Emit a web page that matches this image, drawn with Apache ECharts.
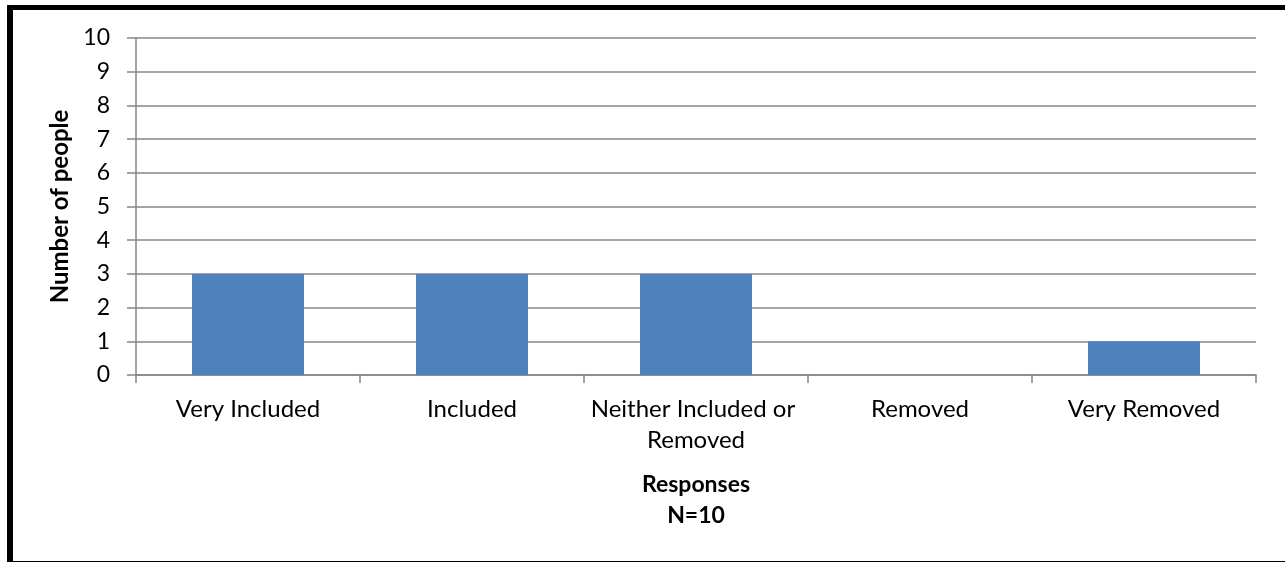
<!DOCTYPE html>
<html>
<head>
<meta charset="utf-8">
<script src="https://cdn.jsdelivr.net/npm/echarts@6/dist/echarts.min.js"></script>
<style>
  html, body { margin: 0; padding: 0; background: #fff; }
  #chart { width: 1285px; height: 562px; position: absolute; left: 0; top: 0; }
  #frame { position: absolute; left: 7px; top: 5px; width: 1272px; height: 551px;
           border-left: 6px solid #000; border-top: 5px solid #000;
           border-right: 3px solid #000; border-bottom: 3px solid #000; pointer-events: none; }
</style>
</head>
<body>
<div id="chart"></div>
<div id="frame"></div>
<script>
const categories = ["Very Included", "Included", "Neither Included or Removed", "Removed", "Very Removed"];
const values = [3, 3, 3, 0, 1];
const yTicks = [0, 1, 2, 3, 4, 5, 6, 7, 8, 9, 10];

const FONT = 'Lato';
const chart = echarts.init(document.getElementById('chart'), null, { renderer: 'canvas' });
chart.setOption({
  animation: false,
  backgroundColor: '#fff',
  grid: { left: 136, right: 29, top: 38, bottom: 187, containLabel: false },
  xAxis: {
    type: 'category',
    data: categories,
    name: 'Responses\nN=10',
    nameLocation: 'middle',
    nameGap: 94,
    nameTextStyle: { fontFamily: FONT, fontWeight: 'bold', fontSize: 23, color: '#000', lineHeight: 31 },
    axisLine: { lineStyle: { color: '#868686', width: 1.5 } },
    axisTick: { show: true, length: 8, lineStyle: { color: '#868686', width: 1.5 } },
    axisLabel: { fontFamily: FONT, fontSize: 24, color: '#000', margin: 19, lineHeight: 31,
                 width: 218, overflow: 'break', interval: 0 },
    splitLine: { show: false }
  },
  yAxis: {
    type: 'value',
    min: 0, max: 10, interval: 1,
    name: 'Number of people',
    nameLocation: 'middle',
    nameGap: 60,
    nameTextStyle: { fontFamily: FONT, fontWeight: 'bold', fontSize: 24, color: '#000' },
    axisLine: { show: true, lineStyle: { color: '#868686', width: 1.5 } },
    axisTick: { show: true, length: 9, lineStyle: { color: '#868686', width: 1.5 } },
    axisLabel: { fontFamily: FONT, fontSize: 23, color: '#000', margin: 26,
                 formatter: v => yTicks.includes(v) ? String(v) : '' },
    splitLine: { show: true, lineStyle: { color: '#868686', width: 1.5 } }
  },
  series: [{
    type: 'bar',
    data: values,
    barCategoryGap: '50%',
    itemStyle: { color: '#4F81BD' }
  }]
});
</script>
</body>
</html>
